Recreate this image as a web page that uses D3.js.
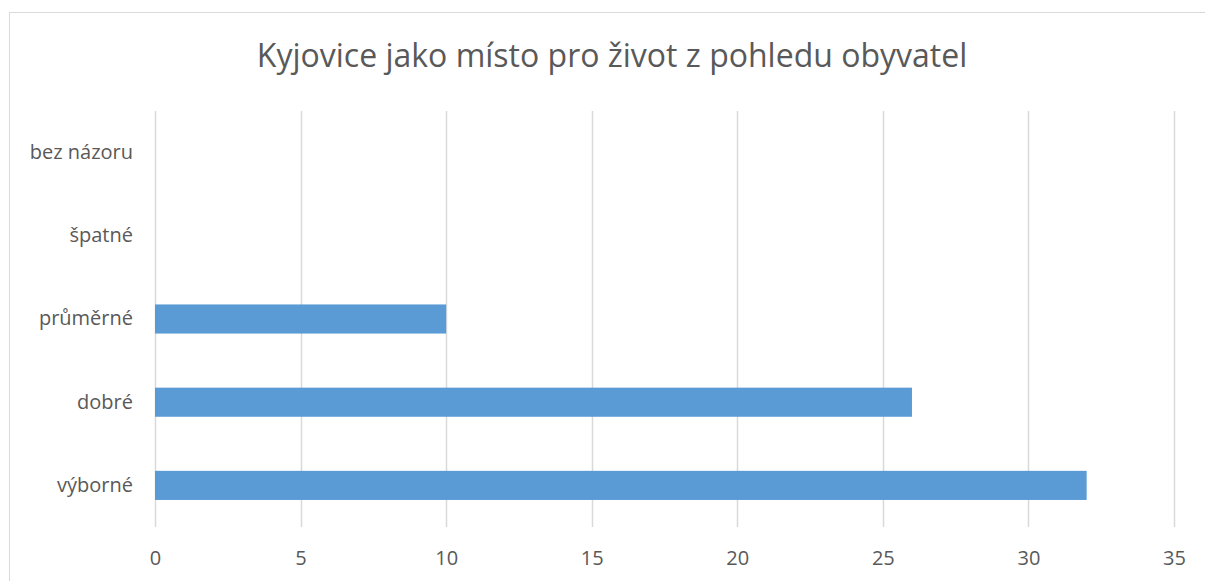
<!DOCTYPE html>
<html>
<head>
<meta charset="utf-8">
<script src="https://cdn.jsdelivr.net/npm/d3@7"></script>
<style>
  body { margin: 0; background: #fff; }
  text { font-family: "Open Sans", sans-serif; fill: #595959; }
</style>
</head>
<body>
<div id="chart"></div>
<script>
// data, bottom to top as in the picture
var categories = ['výborné', 'dobré', 'průměrné', 'špatné', 'bez názoru']
var values = [32, 26, 10, 0, 0]
var xTicks = [0, 5, 10, 15, 20, 25, 30, 35]
var title = 'Kyjovice jako místo pro život z pohledu obyvatel'

var width = 1205, height = 581
var plot = { left: 155, right: 1174, top: 111, bottom: 527 }

var svg = d3.select('#chart')
    .append('svg')
    .attr('width', width)
    .attr('height', height)

// chart frame
svg.append('rect')
    .attr('x', 9.5).attr('y', 12.5)
    .attr('width', width).attr('height', height)
    .attr('fill', 'none')
    .attr('stroke', '#d9d9d9')

svg.append('text')
    .attr('x', 612).attr('y', 67)
    .attr('text-anchor', 'middle')
    .style('font-size', '32px')
    .text(title)

var x = d3.scaleLinear().domain([0, 35]).range([plot.left, plot.right])

// top category at the top
var y = d3.scaleBand()
    .domain(categories.slice().reverse())
    .range([plot.top, plot.bottom])
    .paddingInner(0.65)
    .paddingOuter(0.325)

// gridlines
svg.selectAll('line.grid')
    .data(xTicks)
    .enter()
    .append('line')
    .attr('class', 'grid')
    .attr('x1', function (d) { return Math.round(x(d)) + 0.5 })
    .attr('x2', function (d) { return Math.round(x(d)) + 0.5 })
    .attr('y1', plot.top)
    .attr('y2', plot.bottom)
    .attr('stroke', '#d9d9d9')
    .attr('stroke-width', 1.5)

// bars
svg.selectAll('rect.bar')
    .data(categories.map(function (c, i) { return { cat: c, val: values[i] } }))
    .enter()
    .append('rect')
    .attr('class', 'bar')
    .attr('x', x(0))
    .attr('y', function (d) { return y(d.cat) })
    .attr('width', function (d) { return x(d.val) - x(0) })
    .attr('height', y.bandwidth())
    .attr('fill', '#5b9bd5')

// x axis labels
var xAxis = svg.append('g')
    .attr('transform', 'translate(0,' + plot.bottom + ')')
    .call(d3.axisBottom(x).tickValues(xTicks).tickSize(0).tickPadding(24))
xAxis.select('.domain').remove()
xAxis.selectAll('text').style('font-size', '20px').attr('fill', '#595959')

// y axis labels
var yAxis = svg.append('g')
    .attr('transform', 'translate(' + (plot.left - 22) + ',0)')
    .call(d3.axisLeft(y).tickSize(0).tickPadding(0))
yAxis.select('.domain').remove()
yAxis.selectAll('text').style('font-size', '20px').attr('fill', '#595959')
</script>
</body>
</html>
